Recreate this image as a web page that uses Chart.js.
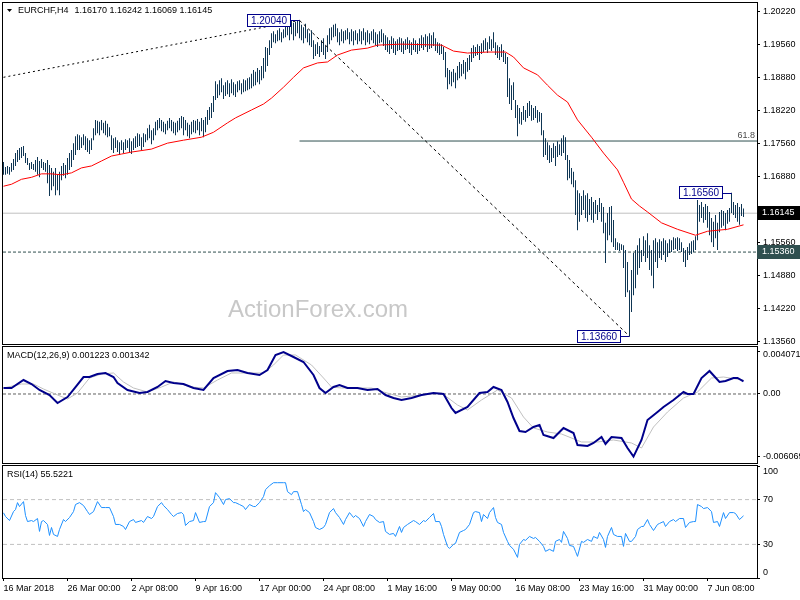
<!DOCTYPE html>
<html>
<head>
<meta charset="utf-8">
<title>EURCHF H4</title>
<script src="https://cdn.jsdelivr.net/npm/chart.js@4.4.1/dist/chart.umd.min.js"></script>
<style>
    html, body { margin: 0; padding: 0; background: #fff; }
    #chart-wrap { position: relative; width: 800px; height: 600px; overflow: hidden; background: #fff; }
    #chart-wrap canvas { position: absolute; left: 0; }
</style>
</head>
<body>
<div id="chart-wrap">
    <canvas id="priceChart" width="800" height="346" style="top:0px"></canvas>
    <canvas id="macdChart" width="800" height="118" style="top:346px"></canvas>
    <canvas id="rsiChart" width="800" height="136" style="top:464px"></canvas>
</div>
<script>
// ========== DATA ==========
const symbolName = 'EURCHF,H4';
const lastQuote = ['1.16170', '1.16242', '1.16069', '1.16145'];
const watermark = 'ActionForex.com';

// bar index of each time label (one bar = 4 hours)
const dateBars = [0, 32, 64, 96, 128, 160, 192, 224, 256, 288, 320, 352];
const dateLabels = ['16 Mar 2018', '26 Mar 00:00', '2 Apr 08:00', '9 Apr 16:00', '17 Apr 00:00', '24 Apr 08:00',
    '1 May 16:00', '9 May 00:00', '16 May 08:00', '23 May 16:00', '31 May 00:00', '7 Jun 08:00'];

const priceTicks = [1.2022, 1.1956, 1.1888, 1.1822, 1.1756, 1.1688, 1.1622, 1.1556, 1.1488, 1.1422, 1.1356];
const macdTicks = [0.004071, 0, -0.006069];
const rsiTicks = [100, 70, 30, 0];

// H4 bar highs / lows, 16 bars per row
const highs = [
    1.1718,1.1708,1.1710,1.1708,1.1716,1.1724,1.1736,1.1742,1.1746,1.1748,1.1750,1.1736,1.1726,1.1716,1.1718,1.1714,
    1.1722,1.1728,1.1720,1.1724,1.1718,1.1716,1.1722,1.1712,1.1706,1.1698,1.1706,1.1692,1.1698,1.1710,1.1716,1.1712,
    1.1726,1.1736,1.1742,1.1756,1.1770,1.1774,1.1772,1.1768,1.1774,1.1770,1.1766,1.1762,1.1766,1.1786,1.1803,1.1801,
    1.1799,1.1803,1.1797,1.1801,1.1795,1.1788,1.1772,1.1766,1.1768,1.1762,1.1758,1.1762,1.1758,1.1764,1.1762,1.1766,
    1.1760,1.1766,1.1770,1.1776,1.1774,1.1768,1.1776,1.1774,1.1786,1.1793,1.1782,1.1786,1.1799,1.1803,1.1807,1.1803,
    1.1799,1.1795,1.1801,1.1807,1.1803,1.1799,1.1797,1.1801,1.1807,1.1811,1.1809,1.1803,1.1797,1.1793,1.1799,1.1803,
    1.1801,1.1805,1.1799,1.1807,1.1803,1.1809,1.1823,1.1829,1.1837,1.1851,1.1881,1.1875,1.1883,1.1887,1.1873,1.1879,
    1.1883,1.1877,1.1885,1.1879,1.1875,1.1881,1.1883,1.1877,1.1885,1.1883,1.1887,1.1889,1.1896,1.1904,1.1900,1.1908,
    1.1904,1.1912,1.1928,1.1950,1.1948,1.1964,1.1978,1.1982,1.1976,1.1984,1.1988,1.1980,1.1986,1.1997,1.2001,1.1995,
    1.2003,1.1999,1.2001,1.2003,1.2004,1.1995,1.1990,1.1997,1.1986,1.1978,1.1984,1.1964,1.1956,1.1960,1.1952,1.1964,
    1.1968,1.1954,1.1974,1.1988,1.1990,1.1995,1.1997,1.1988,1.1980,1.1986,1.1982,1.1984,1.1988,1.1980,1.1986,1.1982,
    1.1984,1.1978,1.1986,1.1982,1.1988,1.1980,1.1984,1.1978,1.1982,1.1986,1.1980,1.1976,1.1982,1.1986,1.1978,1.1974,
    1.1970,1.1964,1.1972,1.1968,1.1962,1.1966,1.1970,1.1968,1.1962,1.1966,1.1970,1.1964,1.1960,1.1968,1.1964,1.1958,
    1.1968,1.1974,1.1970,1.1976,1.1972,1.1978,1.1974,1.1980,1.1968,1.1960,1.1958,1.1956,1.1950,1.1940,1.1908,1.1904,
    1.1900,1.1906,1.1898,1.1912,1.1920,1.1916,1.1924,1.1920,1.1928,1.1934,1.1948,1.1954,1.1950,1.1956,1.1952,1.1958,
    1.1964,1.1968,1.1960,1.1972,1.1966,1.1980,1.1960,1.1954,1.1950,1.1956,1.1944,1.1938,1.1930,1.1887,1.1873,1.1879,
    1.1843,1.1833,1.1827,1.1819,1.1831,1.1823,1.1837,1.1841,1.1833,1.1827,1.1831,1.1823,1.1819,1.1817,1.1782,1.1766,
    1.1758,1.1752,1.1746,1.1756,1.1750,1.1760,1.1754,1.1766,1.1772,1.1768,1.1732,1.1722,1.1706,1.1698,1.1681,1.1661,
    1.1655,1.1649,1.1661,1.1651,1.1655,1.1643,1.1647,1.1637,1.1641,1.1631,1.1645,1.1635,1.1627,1.1595,1.1615,1.1627,
    1.1629,1.1601,1.1564,1.1556,1.1554,1.1552,1.1550,1.1540,1.1516,1.1459,1.1500,1.1534,1.1540,1.1550,1.1564,1.1540,
    1.1568,1.1560,1.1574,1.1550,1.1540,1.1560,1.1564,1.1556,1.1562,1.1558,1.1564,1.1560,1.1554,1.1562,1.1560,1.1566,
    1.1564,1.1566,1.1564,1.1556,1.1544,1.1540,1.1546,1.1554,1.1558,1.1560,1.1568,1.1641,1.1631,1.1637,1.1627,1.1633,
    1.1629,1.1617,1.1605,1.1597,1.1611,1.1595,1.1617,1.1621,1.1619,1.1615,1.1621,1.1625,1.1656,1.1637,1.1631,1.1635,1.1627,1.1633,1.16242
];
const lows = [
    1.1692,1.1692,1.1694,1.1692,1.1698,1.1702,1.1710,1.1718,1.1722,1.1726,1.1730,1.1716,1.1712,1.1702,1.1704,1.1702,
    1.1698,1.1692,1.1687,1.1706,1.1702,1.1698,1.1675,1.1649,1.1661,1.1669,1.1651,1.1661,1.1651,1.1681,1.1690,1.1685,
    1.1692,1.1702,1.1708,1.1722,1.1732,1.1742,1.1742,1.1746,1.1752,1.1742,1.1738,1.1734,1.1742,1.1762,1.1772,1.1776,
    1.1772,1.1782,1.1776,1.1772,1.1768,1.1770,1.1742,1.1736,1.1746,1.1738,1.1732,1.1742,1.1736,1.1742,1.1746,1.1738,
    1.1734,1.1742,1.1746,1.1748,1.1750,1.1742,1.1748,1.1758,1.1762,1.1766,1.1754,1.1762,1.1772,1.1782,1.1786,1.1780,
    1.1778,1.1774,1.1782,1.1786,1.1780,1.1776,1.1772,1.1778,1.1782,1.1786,1.1772,1.1782,1.1770,1.1766,1.1774,1.1778,
    1.1776,1.1782,1.1772,1.1780,1.1768,1.1778,1.1793,1.1803,1.1807,1.1819,1.1843,1.1847,1.1853,1.1859,1.1845,1.1851,
    1.1855,1.1849,1.1857,1.1853,1.1849,1.1859,1.1863,1.1855,1.1859,1.1861,1.1863,1.1865,1.1867,1.1871,1.1873,1.1879,
    1.1875,1.1883,1.1887,1.1900,1.1912,1.1934,1.1948,1.1960,1.1958,1.1962,1.1964,1.1960,1.1968,1.1970,1.1974,1.1964,
    1.1976,1.1964,1.1972,1.1978,1.1968,1.1964,1.1958,1.1968,1.1960,1.1954,1.1950,1.1926,1.1932,1.1936,1.1930,1.1940,
    1.1934,1.1926,1.1940,1.1956,1.1964,1.1970,1.1972,1.1960,1.1954,1.1962,1.1958,1.1964,1.1966,1.1956,1.1962,1.1954,
    1.1964,1.1956,1.1962,1.1956,1.1964,1.1954,1.1960,1.1956,1.1964,1.1958,1.1954,1.1950,1.1958,1.1960,1.1952,1.1944,
    1.1940,1.1936,1.1946,1.1938,1.1934,1.1942,1.1944,1.1940,1.1936,1.1944,1.1946,1.1938,1.1934,1.1944,1.1940,1.1936,
    1.1942,1.1948,1.1944,1.1950,1.1940,1.1946,1.1948,1.1952,1.1942,1.1938,1.1934,1.1936,1.1924,1.1889,1.1865,1.1875,
    1.1871,1.1879,1.1867,1.1883,1.1887,1.1891,1.1896,1.1885,1.1900,1.1904,1.1920,1.1928,1.1932,1.1934,1.1924,1.1936,
    1.1940,1.1944,1.1938,1.1946,1.1942,1.1948,1.1934,1.1928,1.1924,1.1930,1.1920,1.1916,1.1849,1.1835,1.1823,1.1843,
    1.1807,1.1770,1.1795,1.1793,1.1803,1.1799,1.1807,1.1811,1.1801,1.1803,1.1807,1.1797,1.1799,1.1772,1.1728,1.1732,
    1.1722,1.1716,1.1718,1.1726,1.1710,1.1728,1.1732,1.1730,1.1736,1.1722,1.1681,1.1685,1.1673,1.1667,1.1611,1.1580,
    1.1597,1.1611,1.1621,1.1605,1.1597,1.1611,1.1601,1.1595,1.1613,1.1601,1.1617,1.1597,1.1574,1.1514,1.1560,1.1570,
    1.1556,1.1546,1.1540,1.1540,1.1538,1.1540,1.1504,1.1445,1.1455,1.1366,1.1415,1.1449,1.1463,1.1490,1.1504,1.1516,
    1.1528,1.1516,1.1524,1.1500,1.1488,1.1463,1.1516,1.1504,1.1524,1.1520,1.1530,1.1516,1.1526,1.1534,1.1536,1.1540,
    1.1542,1.1538,1.1540,1.1536,1.1516,1.1506,1.1520,1.1530,1.1532,1.1536,1.1540,1.1560,1.1597,1.1605,1.1595,1.1601,
    1.1585,1.1570,1.1556,1.1546,1.1564,1.1540,1.1576,1.1585,1.1589,1.1580,1.1593,1.1597,1.1615,1.1611,1.1605,1.1597,1.1591,1.1609,1.16069
];

// red moving average, [bar, value]
const maPoints = [
    [0,1.1669],[4,1.1673],[9,1.1683],[14,1.1687],[19,1.1694],[24,1.1694],[29,1.1692],[34,1.1696],[39,1.1706],[44,1.1710],
    [49,1.1720],[54,1.1730],[59,1.1734],[64,1.1738],[74,1.1744],[82,1.1756],[90,1.1762],[99,1.1768],[105,1.1778],[112,1.1797],
    [116,1.1807],[124,1.1823],[130,1.1835],[134,1.1847],[140,1.1869],[145,1.1889],[150,1.1908],[157,1.1918],[162,1.1920],[167,1.1934],
    [174,1.1944],[182,1.1948],[187,1.1954],[199,1.1956],[219,1.1954],[225,1.1942],[232,1.1938],[242,1.1940],[251,1.1940],[255,1.1930],
    [260,1.1908],[267,1.1894],[272,1.1873],[277,1.1853],[282,1.1839],[287,1.1803],[294,1.1768],[300,1.1736],[307,1.1702],[310,1.1677],
    [314,1.1643],[318,1.1629],[322,1.1617],[329,1.1595],[337,1.1582],[346,1.1570],[352,1.1578],[362,1.1582],[370,1.1591]
];

// drawn objects: trend lines, swing labels, levels
const risingTrend = [[0, 1.1889], [148, 1.2004]];
const fallingTrend = [[148, 1.2004], [313, 1.1366]];
const swingLabels = [[148, 1.2004], [313, 1.1366], [364, 1.1656]];
const fibStartBar = 148;
const fib618 = 1.17603;
const supportLevel = 1.1536;
const lastPrice = 1.16145;

// MACD(12,26,9): main and signal, [bar, value]
const macdPoints = [
    [0,0.000581],[4,0.000581],[10,0.001357],[14,0.000969],[18,0.000388],[23,-0.000097],[27,-0.000872],[32,-0.000291],[36,0.000678],[40,0.001647],
    [43,0.001647],[47,0.001938],[51,0.002035],[55,0.001647],[57,0.001066],[62,0.000388],[68,0.000097],[72,0.000194],[77,0.000678],[81,0.001260],
    [85,0.001066],[90,0.000969],[95,0.000581],[100,0.000388],[105,0.001550],[112,0.002229],[117,0.002326],[122,0.002035],[128,0.001841],[132,0.002326],
    [136,0.003779],[140,0.004071],[145,0.003585],[150,0.003101],[155,0.001841],[158,0.000581],[161,0.000097],[165,0.000678],[168,0.000872],[172,0.000581],
    [177,0.000581],[182,0.000388],[187,0.000485],[191,-0.000097],[195,-0.000388],[199,-0.000581],[204,-0.000388],[209,-0.000097],[215,0.000097],[220,0],
    [224,-0.001357],[226,-0.001841],[232,-0.001260],[238,0.000097],[242,0.000194],[245,0.000678],[249,0.000388],[252,-0.000775],[255,-0.002326],[258,-0.003585],
    [261,-0.003682],[265,-0.003198],[268,-0.003004],[270,-0.003973],[275,-0.004264],[280,-0.003295],[285,-0.003779],[287,-0.004942],[292,-0.005039],[295,-0.004748],
    [299,-0.004167],[301,-0.004845],[304,-0.004167],[309,-0.004264],[312,-0.005233],[315,-0.006069],[319,-0.004457],[322,-0.002519],[327,-0.001744],[330,-0.001260],
    [335,-0.000581],[340,0.000194],[342,0],[345,0],[349,0.001550],[353,0.002229],[358,0.001163],[361,0.001260],[365,0.001550],[367,0.001550],[370,0.001223]
];
const signalPoints = [
    [0,0.000581],[9,0.000969],[15,0.000969],[20,0.000485],[27,-0.000097],[32,-0.000485],[37,0.000097],[43,0.001550],[49,0.001938],[55,0.002035],
    [60,0.001163],[65,0.000581],[72,0.000194],[79,0.000678],[85,0.001163],[94,0.000678],[100,0.000581],[107,0.001357],[114,0.002035],[122,0.002035],
    [130,0.002035],[135,0.002810],[140,0.003779],[146,0.003779],[154,0.002810],[160,0.001550],[164,0.000678],[169,0.000581],[175,0.000581],[184,0.000581],
    [190,0.000194],[199,-0.000291],[209,-0.000097],[219,0.000097],[227,-0.001066],[232,-0.001550],[239,-0.000581],[247,0.000388],[254,-0.000388],[260,-0.002229],
    [265,-0.003295],[272,-0.003682],[279,-0.003876],[289,-0.004651],[297,-0.004651],[305,-0.004457],[314,-0.004748],[319,-0.005233],[325,-0.003198],[332,-0.001744],
    [340,-0.000388],[347,0.000194],[354,0.001550],[360,0.001647],[370,0.001342]
];
const macdLast = '0.001223';
const signalLast = '0.001342';

// RSI(14), [bar, value]
const rsiPoints = [
    [0,58.2],[1,54.9],[3,51.3],[5,59.3],[6,61.1],[7,67.3],[8,63.8],[10,68.2],[11,55.8],[12,50.4],[14,51.3],[15,50.4],[17,53.1],[18,41.6],[19,50.4],[20,51.3],
    [22,47.8],[23,38.0],[24,45.1],[25,38.9],[27,37.1],[28,43.3],[30,52.2],[31,50.4],[33,54.0],[35,59.3],[36,65.6],[38,67.3],[40,64.7],[42,59.3],[43,56.7],[45,59.3],
    [47,68.2],[49,62.9],[51,62.9],[53,62.9],[55,54.9],[56,47.8],[58,47.8],[60,46.0],[61,43.3],[63,50.4],[65,52.2],[66,49.6],[69,51.3],[70,49.6],[72,54.9],[74,53.1],
    [75,54.9],[77,63.8],[79,67.3],[80,64.7],[82,61.1],[84,56.7],[85,54.9],[87,57.6],[89,58.4],[90,56.7],[91,46.9],[93,50.4],[95,51.3],[96,58.4],[98,49.6],[100,50.4],
    [101,50.4],[103,63.8],[105,67.3],[106,76.2],[108,71.8],[110,65.6],[111,70.0],[113,70.9],[115,67.3],[116,67.3],[118,65.6],[120,63.8],[121,61.1],[123,65.6],[125,63.8],[126,63.8],
    [128,67.3],[130,72.7],[131,78.9],[133,82.4],[135,85.1],[137,85.1],[140,85.1],[141,85.1],[142,77.1],[144,74.4],[145,77.1],[147,77.1],[149,65.6],[150,59.3],[151,61.1],[153,58.4],
    [155,50.4],[156,45.1],[158,43.3],[160,45.1],[161,47.8],[163,58.4],[165,62.0],[166,58.4],[168,54.0],[170,47.8],[171,52.2],[173,58.4],[175,54.0],[176,55.8],[178,53.1],[180,46.0],
    [181,50.4],[183,56.7],[185,54.9],[186,52.2],[188,49.6],[190,50.4],[191,41.6],[193,38.9],[195,39.8],[196,37.1],[198,46.0],[199,40.7],[200,45.1],[202,47.8],[205,51.3],[206,50.4],
    [208,47.8],[210,51.3],[211,50.4],[213,54.0],[215,57.6],[216,50.4],[218,50.4],[219,46.0],[220,38.9],[222,28.2],[223,26.4],[225,30.0],[226,30.9],[228,40.7],[230,42.4],[231,43.3],
    [233,47.8],[235,58.4],[236,59.3],[238,58.4],[239,50.4],[240,56.7],[242,53.1],[243,58.4],[245,62.9],[246,54.0],[247,49.6],[249,47.8],[250,40.7],[252,32.7],[253,29.1],[255,25.6],
    [257,18.4],[258,30.0],[260,34.4],[261,33.6],[263,37.1],[265,35.3],[266,36.2],[268,32.7],[270,28.2],[271,23.8],[273,25.6],[275,23.8],[276,32.7],[278,34.4],[279,31.8],[280,41.6],
    [282,35.3],[283,29.1],[285,28.2],[286,23.8],[287,19.3],[289,32.7],[290,31.8],[292,34.4],[294,32.7],[295,37.1],[297,35.3],[298,40.7],[300,34.4],[301,27.3],[302,37.1],[304,45.1],
    [305,38.9],[307,37.1],[309,37.1],[310,28.2],[311,39.8],[313,32.7],[314,32.7],[316,37.1],[317,43.3],[319,46.0],[320,46.0],[322,52.2],[323,47.8],[325,42.4],[327,47.8],[328,48.7],
    [330,50.4],[331,46.0],[333,50.4],[335,52.2],[336,50.4],[338,53.1],[340,53.1],[341,45.1],[343,49.6],[345,50.4],[346,50.4],[347,65.6],[349,63.8],[350,62.0],[352,62.9],[354,59.3],
    [355,49.6],[357,50.4],[358,46.0],[360,58.4],[361,53.1],[363,58.4],[365,58.4],[366,57.6],[368,52.2],[370,55.5221]
];
const rsiLevels = [70, 30];
const rsiLast = '55.5221';

// ========== SETTINGS ==========
const FONT = '"Liberation Sans", Arial, sans-serif';
const BAR_COLOR = '#0f3654';
const X_MIN = -0.25, X_MAX = 376.75;          // 2 px per bar
const PRICE_MIN = 1.13503, PRICE_MAX = 1.20391;
const MACD_MIN = -0.006686, MACD_MAX = 0.004554;

Chart.defaults.font.family = FONT;

function toXY(list) {
    return list.map(p => ({ x: p[0], y: p[1] }));
}

function lineSet(list, color, width, dash, order) {
    return {
        type: 'line',
        data: toXY(list),
        borderColor: color,
        borderWidth: width,
        borderDash: dash || [],
        pointRadius: 0,
        pointHoverRadius: 0,
        tension: 0,
        fill: false,
        order: order
    };
}

// keep the plot areas fixed: no extra room for labels at the ends
function noEndPadding(scale) {
    scale.paddingTop = 0;
    scale.paddingBottom = 0;
    scale.paddingLeft = 0;
    scale.paddingRight = 0;
}

function barAxis(show) {
    return {
        type: 'linear', min: X_MIN, max: X_MAX, offset: false, display: show,
        afterFit: noEndPadding,
        grid: { drawOnChartArea: false, tickLength: 3, color: '#000' },
        border: { display: false }
    };
}

function rightAxis(min, max, tickValues, format, lineHeight) {
    return {
        position: 'right', min: min, max: max,
        afterFit: function(scale) {
            scale.width = 43;
            noEndPadding(scale);
        },
        afterBuildTicks: function(scale) { scale.ticks = tickValues.map(v => ({ value: v })); },
        grid: { drawOnChartArea: false, tickLength: 3, color: '#000' },
        border: { display: false },
        ticks: {
            padding: 3, color: '#000', autoSkip: false,
            font: { family: FONT, size: 9, lineHeight: lineHeight || 1.2 },
            callback: format
        }
    };
}

function baseOptions(padding) {
    return {
        responsive: false,
        animation: false,
        devicePixelRatio: 1,
        layout: { padding: padding },
        plugins: { legend: { display: false }, tooltip: { enabled: false } },
        events: []
    };
}

// black frame round each pane
const framePlugin = {
    id: 'frame',
    afterDraw(chart) {
        const a = chart.chartArea, ctx = chart.ctx;
        ctx.save();
        ctx.strokeStyle = '#000';
        ctx.lineWidth = 1;
        ctx.strokeRect(a.left - 0.5, a.top - 0.5, a.right - a.left + 1, a.bottom - a.top + 1);
        ctx.restore();
    }
};

function paneTitle(text, y) {
    return {
        id: 'paneTitle',
        afterDraw(chart) {
            const ctx = chart.ctx;
            ctx.save();
            ctx.fillStyle = '#000';
            ctx.font = '9px ' + FONT;
            ctx.textBaseline = 'middle';
            ctx.fillText(text, 7, y);
            ctx.restore();
        }
    };
}

// ========== PRICE PANE ==========
const priceOverlay = {
    id: 'priceOverlay',
    beforeDatasetsDraw(chart) {
        const ctx = chart.ctx;
        ctx.save();
        ctx.font = '24px ' + FONT;
        ctx.fillStyle = '#c8c8c8';
        ctx.fillText(watermark, 228, 317);
        ctx.restore();
    },
    afterDraw(chart) {
        const ctx = chart.ctx;
        const xs = chart.scales.x, ys = chart.scales.y, area = chart.chartArea;
        ctx.save();

        // symbol header
        ctx.fillStyle = '#000';
        ctx.beginPath();
        ctx.moveTo(7, 9); ctx.lineTo(12, 9); ctx.lineTo(9.5, 12);
        ctx.closePath();
        ctx.fill();
        ctx.font = '9px ' + FONT;
        ctx.textBaseline = 'middle';
        ctx.fillText(symbolName, 18, 10.5);
        ctx.fillText(lastQuote.join(' '), 18 + ctx.measureText(symbolName).width + 6, 10.5);

        // fibonacci tag
        ctx.fillStyle = '#4a4a4a';
        ctx.textAlign = 'right';
        ctx.textBaseline = 'alphabetic';
        ctx.fillText('61.8', area.right - 2, ys.getPixelForValue(fib618) - 3);

        // swing high / low labels
        ctx.font = '10px ' + FONT;
        ctx.textAlign = 'center';
        ctx.textBaseline = 'middle';
        ctx.lineWidth = 1;
        swingLabels.forEach(function(s) {
            const px = xs.getPixelForValue(s[0]);
            const py = ys.getPixelForValue(s[1]);
            const bx = Math.round(px) - 52.5;
            const by = Math.round(py - 6.5) + 0.5;
            const ly = Math.round(py) + 0.5;
            ctx.fillStyle = '#fff';
            ctx.fillRect(bx, by, 43, 12);
            ctx.strokeStyle = '#00008b';
            ctx.strokeRect(bx, by, 43, 12);
            ctx.beginPath();
            ctx.moveTo(bx + 43, ly);
            ctx.lineTo(px, ly);
            ctx.stroke();
            ctx.fillStyle = '#00008b';
            ctx.fillText(s[1].toFixed(5), bx + 21.5, by + 6.5);
        });

        // price tags on the axis
        ctx.font = '9px ' + FONT;
        ctx.textAlign = 'left';
        [[lastPrice, '#000000'], [supportLevel, '#2f4f4f']].forEach(function(tag) {
            const py = Math.round(ys.getPixelForValue(tag[0]));
            ctx.fillStyle = tag[1];
            ctx.fillRect(area.right, py - 7, chart.width - area.right, 14);
            ctx.fillStyle = '#fff';
            ctx.fillText(tag[0].toFixed(5), area.right + 5, py);
        });
        ctx.restore();
    }
};

const bars = highs.map((h, i) => ({ x: i, y: [lows[i], h] }));

new Chart(document.getElementById('priceChart'), {
    type: 'line',
    data: {
        datasets: [
            lineSet(risingTrend, '#000', 1, [2, 3], 0),
            lineSet(fallingTrend, '#000', 1, [3, 3], 0),
            lineSet(maPoints, '#ff0000', 1, null, 1),
            {
                type: 'bar',
                data: bars,
                backgroundColor: BAR_COLOR,
                barThickness: 1,
                inflateAmount: 0,
                borderWidth: 0,
                order: 2
            },
            lineSet([[fibStartBar, fib618], [X_MAX, fib618]], '#2f4f4f', 1, null, 3),
            lineSet([[X_MIN, supportLevel], [X_MAX, supportLevel]], '#2f4f4f', 1, [3, 2], 4),
            lineSet([[X_MIN, lastPrice], [X_MAX, lastPrice]], '#c0c0c0', 1, null, 5)
        ]
    },
    options: Object.assign(baseOptions({ left: 3, top: 3, right: 0, bottom: 2 }), {
        scales: {
            x: barAxis(false),
            y: rightAxis(PRICE_MIN, PRICE_MAX, priceTicks, v => v.toFixed(5))
        }
    }),
    plugins: [framePlugin, priceOverlay]
});

// ========== MACD PANE ==========
// top label sits a little below its tick, like the terminal does
function macdLabel(v) {
    if (v === 0) return '0.00';
    if (v === macdTicks[0]) return ['', v.toFixed(6)];
    return v.toFixed(6);
}

new Chart(document.getElementById('macdChart'), {
    type: 'line',
    data: {
        datasets: [
            lineSet(macdPoints, '#00008b', 2, null, 0),
            lineSet(signalPoints, '#c0c0c0', 1, null, 1),
            lineSet([[X_MIN, 0], [X_MAX, 0]], '#606060', 1, [3, 2], 2)
        ]
    },
    options: Object.assign(baseOptions({ left: 3, top: 1, right: 0, bottom: 1 }), {
        scales: {
            x: barAxis(false),
            y: rightAxis(MACD_MIN, MACD_MAX, macdTicks, macdLabel, 0.6)
        }
    }),
    plugins: [framePlugin, paneTitle('MACD(12,26,9) ' + macdLast + ' ' + signalLast, 9.5)]
});

// ========== RSI PANE ==========
const rsiAxisX = Object.assign(barAxis(true), {
    afterFit: function(scale) {
        scale.height = 22;
        noEndPadding(scale);
    },
    afterBuildTicks: function(scale) { scale.ticks = dateBars.map(v => ({ value: v })); },
    ticks: {
        align: 'start', maxRotation: 0, minRotation: 0, autoSkip: false, padding: 2,
        color: '#000', font: { family: FONT, size: 9 },
        callback: v => dateLabels[dateBars.indexOf(v)]
    }
});

new Chart(document.getElementById('rsiChart'), {
    type: 'line',
    data: {
        datasets: [lineSet(rsiPoints, '#1e90ff', 1, null, 0)].concat(
            rsiLevels.map(l => lineSet([[X_MIN, l], [X_MAX, l]], '#c0c0c0', 1, [4, 3], 1))
        )
    },
    options: Object.assign(baseOptions({ left: 3, top: 2, right: 0, bottom: 0 }), {
        scales: {
            x: rsiAxisX,
            y: rightAxis(0, 100, rsiTicks, v => v === 100 ? ['', '100'] : (v === 0 ? ['0', ''] : String(v)), 1.3)
        }
    }),
    plugins: [framePlugin, paneTitle('RSI(14) ' + rsiLast, 11)]
});
</script>
</body>
</html>
